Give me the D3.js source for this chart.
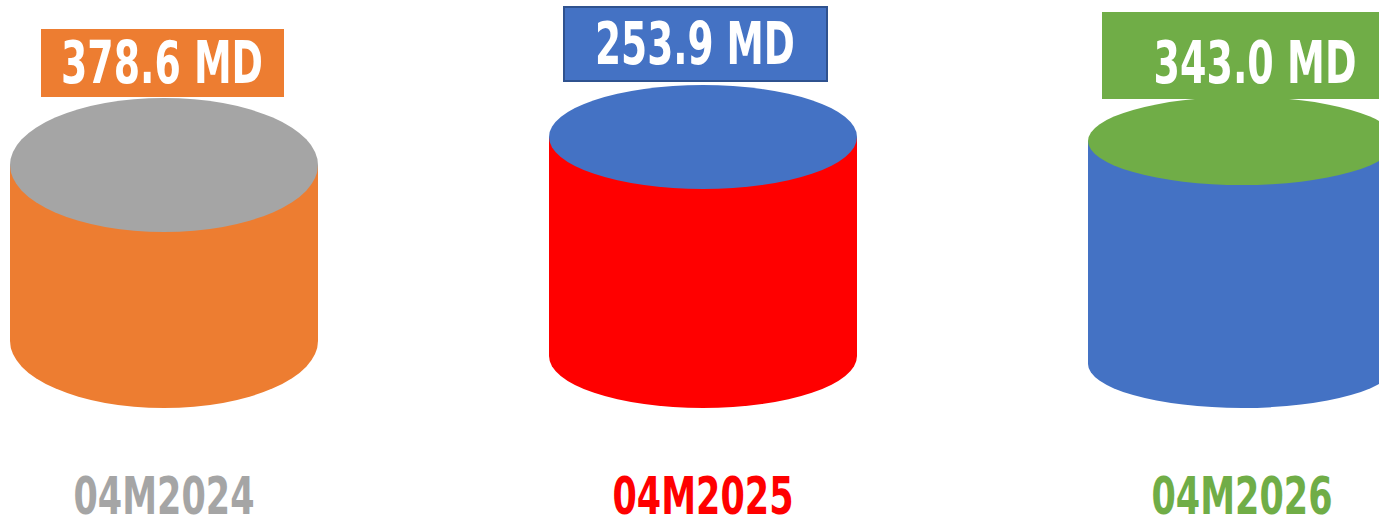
<!DOCTYPE html>
<html>
<head>
<meta charset="UTF-8">
<script src="https://d3js.org/d3.v7.min.js"></script>
<style>
  body { margin: 0; background: #fff; }
  svg { display: block; }
  text { font-family: "Liberation Sans Narrow", "DejaVu Sans Condensed", "Roboto", sans-serif; font-weight: bold; }
</style>
</head>
<body>
<svg width="1379" height="517"></svg>
<script>
// data
const periods = ["04M2024", "04M2025", "04M2026"];
const amounts = [378.6, 253.9, 343.0];
const valueLabels = ["378.6 MD", "253.9 MD", "343.0 MD"];

// styling per item
const bodyColors = ["#ED7D31", "#FF0000", "#4472C4"];
const capColors  = ["#A5A5A5", "#4472C4", "#70AD47"];
const boxColors  = ["#ED7D31", "#4472C4", "#70AD47"];
const boxStroke  = [null, "#2F528F", null];
const catColors  = ["#A5A5A5", "#FF0000", "#70AD47"];

// shape of each cylinder as drawn in the source (not value-scaled)
const capCy = [165, 137, 141];
const capRy = [67, 52, 44];
const boxes = [ // [x-offset from centre, top, width, height, baseline]
  [-123, 29, 243, 68, 83],
  [-139, 7, 263, 74, 64],
  [-140, 12, 305, 87, 83]
];
const textSpan = [202, 200, 203];
const textShift = [-2, -8, 13];

const svg = d3.select("svg");
const x = d3.scalePoint().domain(periods).range([164, 1242]);
const rx = 154, baseY = 408;

const g = svg.selectAll("g.cyl")
  .data(periods.map((p, i) => ({ p, v: amounts[i], i })))
  .join("g").attr("class", "cyl");

g.append("path")
  .attr("fill", d => bodyColors[d.i])
  .attr("d", d => {
    const cx = x(d.p), ry = capRy[d.i], top = capCy[d.i], bot = baseY - ry;
    return `M${cx - rx},${top} L${cx - rx},${bot} A${rx},${ry} 0 0 0 ${cx + rx},${bot} L${cx + rx},${top} Z`;
  });

g.append("ellipse")
  .attr("cx", d => x(d.p))
  .attr("cy", d => capCy[d.i])
  .attr("rx", rx)
  .attr("ry", d => capRy[d.i])
  .attr("fill", d => capColors[d.i]);

g.append("rect")
  .attr("x", d => x(d.p) + boxes[d.i][0])
  .attr("y", d => boxes[d.i][1])
  .attr("width", d => boxes[d.i][2])
  .attr("height", d => boxes[d.i][3])
  .attr("fill", d => boxColors[d.i])
  .attr("stroke", d => boxStroke[d.i] || "none")
  .attr("stroke-width", 2);

g.append("text")
  .attr("x", d => x(d.p) + textShift[d.i])
  .attr("y", d => boxes[d.i][4])
  .attr("text-anchor", "middle")
  .attr("fill", "#fff")
  .attr("font-size", 58)
  .attr("textLength", d => textSpan[d.i])
  .attr("lengthAdjust", "spacingAndGlyphs")
  .text(d => valueLabels[d.i]);

g.append("text")
  .attr("x", d => x(d.p))
  .attr("y", 514)
  .attr("text-anchor", "middle")
  .attr("fill", d => catColors[d.i])
  .attr("font-size", 52)
  .attr("textLength", 181)
  .attr("lengthAdjust", "spacingAndGlyphs")
  .text(d => d.p);
</script>
</body>
</html>
